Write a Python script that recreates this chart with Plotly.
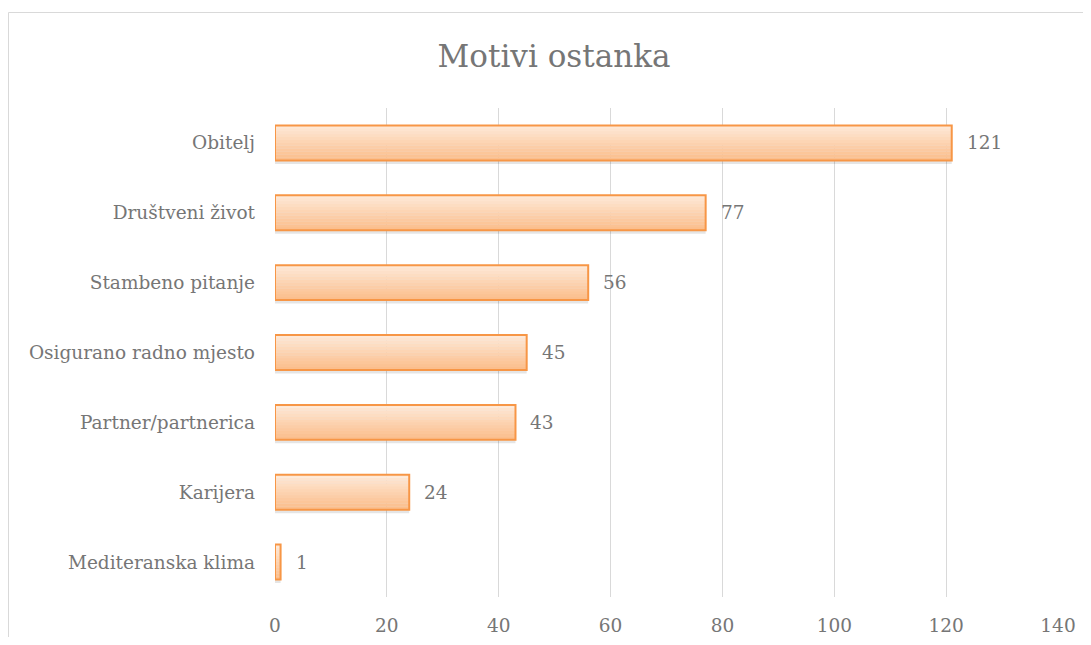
import plotly.graph_objects as go

categories = ["Obitelj", "Društveni život", "Stambeno pitanje", "Osigurano radno mjesto",
              "Partner/partnerica", "Karijera", "Mediteranska klima"]
values = [121, 77, 56, 45, 43, 24, 1]
x_ticks = [0, 20, 40, 60, 80, 100, 120, 140]
title = "Motivi ostanka"

FONT = "DejaVu Serif"
GRAY = "#767676"
LBL = 18.5

fig = go.Figure()

# subtle shadow under bars
fig.add_trace(go.Bar(
    y=categories, x=values, orientation="h",
    width=0.5, offset=-0.30,
    marker=dict(color="rgba(0,0,0,0.10)", line=dict(width=0)),
    hoverinfo="skip", showlegend=False,
))

# vertical gradient built from thin strips (bottom darker -> top lighter)
N = 12
c_bot = (251, 190, 140)
c_top = (254, 232, 214)
for i in range(N):
    t = i / (N - 1)
    c = tuple(round(c_bot[k] + (c_top[k] - c_bot[k]) * t) for k in range(3))
    fig.add_trace(go.Bar(
        y=categories, x=values, orientation="h",
        width=0.5 / N + 0.004, offset=-0.25 + i * 0.5 / N,
        marker=dict(color="rgb(%d,%d,%d)" % c, line=dict(width=0)),
        hoverinfo="skip", showlegend=False,
    ))

# outline
fig.add_trace(go.Bar(
    y=categories, x=values, orientation="h",
    width=0.5, offset=-0.25,
    marker=dict(color="rgba(0,0,0,0)", line=dict(color="#f79646", width=2)),
    showlegend=False,
))

for c, v in zip(categories, values):
    fig.add_annotation(x=v, y=c, text=str(v), showarrow=False,
                       xanchor="left", xshift=13,
                       font=dict(family=FONT, size=LBL, color=GRAY))

# page is offset by the 8px body margin
W, H = 1075, 629
L, R, T, B = 267, 25, 100, 40
pw, ph = W - L - R, H - T - B

def px_x(px):
    return (px - L) / pw

def px_y(py):
    return (H - B - py) / ph

fig.add_shape(type="line", xref="paper", yref="paper",
              x0=px_x(0.5), x1=px_x(W), y0=px_y(4.5), y1=px_y(4.5),
              line=dict(color="#d9d9d9", width=1))
fig.add_shape(type="line", xref="paper", yref="paper",
              x0=px_x(0.5), x1=px_x(0.5), y0=px_y(4.5), y1=px_y(H),
              line=dict(color="#d9d9d9", width=1))

fig.update_layout(
    width=W, height=H,
    margin=dict(l=L, r=R, t=T, b=B, autoexpand=False),
    paper_bgcolor="white", plot_bgcolor="white",
    barmode="overlay",
    title=dict(text=title, x=546 / W, xanchor="center", y=1 - 48 / H, yanchor="middle",
               font=dict(family=FONT, size=31, color=GRAY)),
    xaxis=dict(range=[0, 140], tickvals=x_ticks, showgrid=True, gridcolor="#d9d9d9",
               gridwidth=1, zeroline=False, showline=False, ticks="", automargin=False,
               tickfont=dict(family=FONT, size=LBL, color=GRAY), ticklabelstandoff=15),
    yaxis=dict(categoryorder="array", categoryarray=list(reversed(categories)),
               showgrid=False, zeroline=False, showline=False, ticks="", automargin=False,
               tickfont=dict(family=FONT, size=LBL, color=GRAY), ticklabelstandoff=19),
    font=dict(family=FONT, color=GRAY),
)

fig.write_html("out.html")
